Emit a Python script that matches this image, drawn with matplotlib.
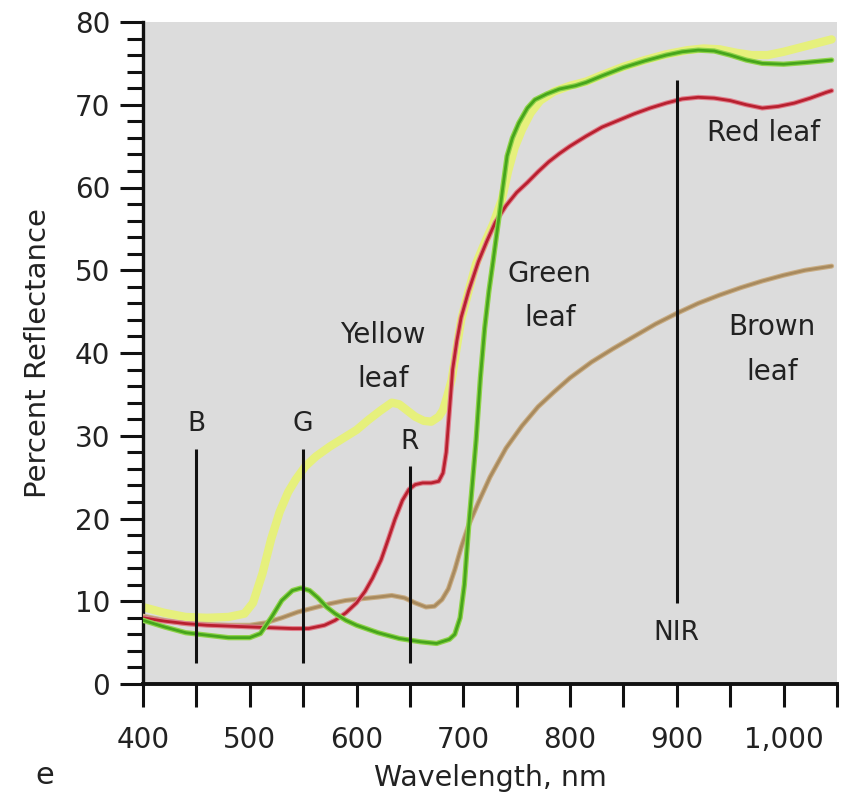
import matplotlib
matplotlib.use("Agg")
import matplotlib.pyplot as plt
from matplotlib.ticker import MultipleLocator, FuncFormatter

# ---------------- data ----------------
green_x = [400, 420, 440, 460, 480, 500, 510, 520, 530, 540, 548, 556, 564, 572, 580, 590,
           600, 620, 640, 660, 675, 687, 692, 697, 701, 705, 709, 712, 716, 720, 724, 728,
           733, 737, 741, 746, 752, 760, 767, 778, 790, 805, 815, 830, 850, 870, 890, 905,
           920, 935, 950, 965, 980, 1000, 1020, 1045]
green_y = [7.7, 6.9, 6.2, 5.9, 5.6, 5.6, 6.1, 8.0, 10.1, 11.3, 11.6, 11.3, 10.4, 9.3, 8.5, 7.7,
           7.1, 6.2, 5.5, 5.1, 4.9, 5.4, 6.0, 8.0, 12.0, 19.0, 25.0, 29.5, 37.0, 43.0, 47.5, 51.2,
           56.0, 60.0, 63.8, 66.0, 67.8, 69.6, 70.6, 71.3, 71.9, 72.3, 72.7, 73.5, 74.5, 75.3, 76.0, 76.4,
           76.6, 76.5, 76.0, 75.4, 75.0, 74.9, 75.1, 75.4]

yellow_x = [400, 420, 440, 460, 480, 495, 503, 512, 520, 528, 536, 543, 552, 562, 575, 590,
            600, 611, 622, 633, 640, 648, 655, 663, 670, 677, 681, 685, 689, 693, 698, 705,
            712, 720, 728, 736, 742, 748, 755, 763, 772, 785, 800, 815, 830, 850, 870, 890,
            910, 925, 940, 955, 970, 985, 1000, 1015, 1030, 1045]
yellow_y = [9.3, 8.6, 8.1, 8.0, 8.1, 8.5, 9.8, 13.4, 17.5, 20.8, 23.2, 24.7, 26.3, 27.5, 28.7, 29.9,
            30.7, 31.9, 33.0, 34.0, 33.8, 33.0, 32.3, 31.8, 31.7, 32.3, 33.1, 34.8, 36.7, 40.0, 44.0, 47.5,
            50.8, 53.3, 55.6, 58.5, 62.0, 64.8, 67.0, 69.0, 70.5, 71.6, 72.3, 72.8, 73.6, 74.6, 75.4, 76.1,
            76.6, 76.8, 76.7, 76.3, 76.0, 76.0, 76.4, 76.9, 77.4, 77.9]

red_x = [400, 420, 440, 460, 480, 500, 520, 540, 555, 570, 580, 590, 600, 608, 615, 623,
         630, 636, 643, 649, 655, 662, 670, 677, 681, 684, 687, 690, 694, 698, 705, 714,
         722, 730, 740, 750, 760, 770, 780, 790, 800, 815, 830, 845, 860, 875, 890, 905,
         920, 935, 950, 965, 980, 995, 1010, 1025, 1040, 1045]
red_y = [8.0, 7.6, 7.3, 7.1, 7.0, 6.9, 6.8, 6.7, 6.7, 7.1, 7.7, 8.6, 9.8, 11.2, 12.8, 15.0,
         17.6, 19.9, 22.2, 23.5, 24.1, 24.3, 24.3, 24.5, 25.5, 28.0, 33.0, 38.0, 41.5, 44.3, 47.5, 51.0,
         53.5, 55.8, 57.8, 59.4, 60.6, 61.9, 63.1, 64.1, 65.0, 66.2, 67.3, 68.1, 68.9, 69.6, 70.2, 70.7,
         70.9, 70.8, 70.5, 70.0, 69.6, 69.8, 70.2, 70.8, 71.5, 71.7]

brown_x = [400, 420, 440, 460, 480, 500, 515, 530, 545, 560, 575, 590, 605, 620, 633, 645,
           655, 665, 673, 680, 686, 692, 698, 705, 714, 725, 740, 755, 770, 785, 800, 820,
           840, 860, 880, 900, 920, 940, 960, 980, 1000, 1020, 1045]
brown_y = [8.2, 7.7, 7.3, 7.2, 7.1, 7.1, 7.4, 8.0, 8.7, 9.2, 9.7, 10.1, 10.3, 10.5, 10.7, 10.4,
           9.8, 9.3, 9.4, 10.2, 11.5, 13.8, 16.5, 19.2, 21.9, 25.0, 28.5, 31.2, 33.5, 35.3, 37.0, 38.9,
           40.5, 42.0, 43.5, 44.8, 46.0, 47.0, 47.9, 48.7, 49.4, 50.0, 50.5]

band_names = ["B", "G", "R", "NIR"]
band_x = [450, 550, 650, 900]
band_lo = [2.5, 2.5, 2.5, 9.8]
band_hi = [28.4, 28.4, 26.4, 73.0]
band_label_y = [31.4, 31.4, 29.2, 6.2]

leaf_labels = ["Yellow\nleaf", "Green\nleaf", "Red leaf", "Brown\nleaf"]
leaf_label_x = [625, 781, 981, 989]
leaf_label_y = [39.5, 46.9, 66.6, 40.4]

x_major = 100
x_minor = 50
y_major = 10
y_minor = 2

# ---------------- figure ----------------
fig = plt.figure(figsize=(8.44, 7.94), dpi=100)
ax = fig.add_axes([143 / 844, (794 - 684) / 794, (837 - 143) / 844, (684 - 22) / 794])
ax.set_facecolor("#dcdcdc")
ax.set_xlim(400, 1050)
ax.set_ylim(0, 80)

# curves
ax.plot(yellow_x, yellow_y, color="#e6f07c", lw=6.0, solid_capstyle="round", zorder=2)
ax.plot(brown_x, brown_y, color="#c9ad84", lw=3.6, solid_capstyle="round", zorder=3)
ax.plot(brown_x, brown_y, color="#a88a5e", lw=2.0, solid_capstyle="round", zorder=3)
ax.plot(red_x, red_y, color="#e07f8c", lw=3.6, solid_capstyle="round", zorder=4)
ax.plot(red_x, red_y, color="#b8202f", lw=2.0, solid_capstyle="round", zorder=4)
ax.plot(green_x, green_y, color="#8fd34a", lw=3.8, solid_capstyle="round", zorder=5)
ax.plot(green_x, green_y, color="#46a51c", lw=2.0, solid_capstyle="round", zorder=5)

# band lines
for name, bx, lo, hi, ly in zip(band_names, band_x, band_lo, band_hi, band_label_y):
    ax.vlines(bx, lo, hi, color="#111111", lw=2.2, zorder=6)
    ax.text(bx, ly, name, ha="center", va="center", fontsize=19, color="#222222", zorder=7)

for txt, tx, ty in zip(leaf_labels, leaf_label_x, leaf_label_y):
    ax.text(tx, ty, txt, ha="center", va="center", fontsize=20, color="#222222",
            linespacing=1.75, multialignment="center", zorder=7)

# spines
for s in ["top", "right"]:
    ax.spines[s].set_visible(False)
ax.spines["left"].set_linewidth(2.4)
ax.spines["bottom"].set_linewidth(2.8)
ax.spines["left"].set_color("#111111")
ax.spines["bottom"].set_color("#111111")

# ticks
ax.xaxis.set_major_locator(MultipleLocator(x_major))
ax.xaxis.set_minor_locator(MultipleLocator(x_minor))
ax.yaxis.set_major_locator(MultipleLocator(y_major))
ax.yaxis.set_minor_locator(MultipleLocator(y_minor))
ax.xaxis.set_major_formatter(FuncFormatter(lambda v, p: f"{int(round(v)):,}"))
ax.tick_params(axis="x", which="both", direction="out", length=16.5, width=2.2,
               color="#111111", labelsize=20, pad=14, labelcolor="#222222")
ax.tick_params(axis="y", which="major", direction="out", length=16.5, width=2.2,
               color="#111111", labelsize=20, pad=7, labelcolor="#222222")
ax.tick_params(axis="y", which="minor", direction="out", length=11.5, width=2.2,
               color="#111111")

ax.set_xlabel("Wavelength, nm", fontsize=20.5, color="#222222")
ax.set_ylabel("Percent Reflectance", fontsize=21, color="#222222")
ax.xaxis.set_label_coords(0.5, (684 - 764) / 662)
ax.yaxis.set_label_coords((52 - 143) / 694, 0.5)

fig.text(45 / 844, 1 - 776 / 794, "e", fontsize=22, ha="center", va="center", color="#222222")

fig.savefig("out.png", dpi=100)
